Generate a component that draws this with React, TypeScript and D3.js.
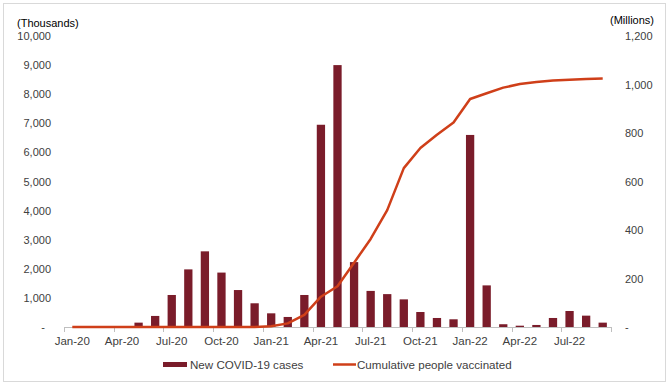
import * as React from 'react';
import * as d3 from 'd3';

// month categories, Jan-20 .. Sep-22
const months = [
  'Jan-20', 'Feb-20', 'Mar-20', 'Apr-20', 'May-20', 'Jun-20', 'Jul-20', 'Aug-20', 'Sep-20', 'Oct-20', 'Nov-20', 'Dec-20',
  'Jan-21', 'Feb-21', 'Mar-21', 'Apr-21', 'May-21', 'Jun-21', 'Jul-21', 'Aug-21', 'Sep-21', 'Oct-21', 'Nov-21', 'Dec-21',
  'Jan-22', 'Feb-22', 'Mar-22', 'Apr-22', 'May-22', 'Jun-22', 'Jul-22', 'Aug-22', 'Sep-22',
];

// new cases, thousands
const newCases = [
  0, 0, 1, 33, 150, 380, 1100, 1980, 2600, 1870, 1270, 815,
  470, 345, 1100, 6950, 9000, 2230, 1240, 1130, 950, 515, 310, 265,
  6600, 1430, 95, 45, 70, 310, 550, 390, 150,
];

// cumulative people vaccinated, millions
const vaccinated = [
  0, 0, 0, 0, 0, 0, 0, 0, 0, 0, 0, 0,
  3, 15, 50, 125, 168, 265, 363, 482, 655, 738, 793, 843,
  940, 964, 987, 1002, 1010, 1016, 1020, 1023, 1025,
];

const leftTicks = [0, 1000, 2000, 3000, 4000, 5000, 6000, 7000, 8000, 9000, 10000];
const rightTicks = [0, 200, 400, 600, 800, 1000, 1200];

const W = 670;
const H = 387;
const BAR = '#7a1c2a';
const LINE = '#cf3f19';
const TEXT = '#404040';
const FONT = 'Liberation Sans, Arial, sans-serif';

export default function App() {
  const ref = React.useRef<SVGSVGElement>(null);

  React.useEffect(() => {
    const svg = d3.select(ref.current);
    svg.selectAll('*').remove();

    const x0 = 64;
    const x1 = 611;
    const y0 = 327;
    const yTop = 36;

    const x = d3.scaleBand<string>().domain(months).range([x0, x1]).padding(0);
    const yL = d3.scaleLinear().domain([0, 10000]).range([y0, yTop]);
    const yR = d3.scaleLinear().domain([0, 1200]).range([y0, yTop]);
    const bw = x.bandwidth();
    const fmt = d3.format(',');

    // frame
    svg.append('rect')
      .attr('x', 3.5).attr('y', 3.5)
      .attr('width', 662).attr('height', 378)
      .attr('fill', '#fff').attr('stroke', '#d9d9d9');

    // bars
    svg.append('g')
      .selectAll('rect')
      .data(months)
      .enter()
      .append('rect')
      .attr('x', (m) => (x(m) ?? 0) + bw * 0.25)
      .attr('width', bw * 0.5)
      .attr('y', (_m, i) => yL(newCases[i]))
      .attr('height', (_m, i) => y0 - yL(newCases[i]))
      .attr('fill', BAR);

    // x axis
    svg.append('line')
      .attr('x1', x0).attr('x2', x1)
      .attr('y1', y0 + 0.5).attr('y2', y0 + 0.5)
      .attr('stroke', '#bfbfbf');

    const tickIdx = months.map((_m, i) => i).filter((i) => i % 3 === 0);
    const tickPos = tickIdx.map((i) => x(months[i]) ?? 0).concat([x1]);
    svg.append('g')
      .selectAll('line')
      .data(tickPos)
      .enter()
      .append('line')
      .attr('x1', (d) => Math.round(d) + 0.5)
      .attr('x2', (d) => Math.round(d) + 0.5)
      .attr('y1', y0)
      .attr('y2', y0 + 5)
      .attr('stroke', '#bfbfbf');

    svg.append('g')
      .selectAll('text')
      .data(tickIdx)
      .enter()
      .append('text')
      .attr('x', (i) => (x(months[i]) ?? 0) + bw / 2)
      .attr('y', 345)
      .attr('text-anchor', 'middle')
      .attr('font-size', 11.5)
      .attr('font-family', FONT)
      .attr('fill', TEXT)
      .text((i) => months[i]);

    // left axis labels
    svg.append('g')
      .selectAll('text')
      .data(leftTicks)
      .enter()
      .append('text')
      .attr('x', (d) => (d === 0 ? 45 : 51))
      .attr('y', (d) => yL(d) + 4)
      .attr('text-anchor', 'end')
      .attr('font-size', 11)
      .attr('font-family', FONT)
      .attr('fill', TEXT)
      .text((d) => (d === 0 ? '-' : fmt(d)));

    // right axis labels
    svg.append('g')
      .selectAll('text')
      .data(rightTicks)
      .enter()
      .append('text')
      .attr('x', 625)
      .attr('y', (d) => yR(d) + 4)
      .attr('text-anchor', 'start')
      .attr('font-size', 11)
      .attr('font-family', FONT)
      .attr('fill', TEXT)
      .text((d) => (d === 0 ? '-' : fmt(d)));

    svg.append('text')
      .attr('x', 17).attr('y', 27)
      .attr('font-size', 11).attr('font-family', FONT).attr('fill', '#000')
      .text('(Thousands)');
    svg.append('text')
      .attr('x', 610).attr('y', 24)
      .attr('font-size', 11).attr('font-family', FONT).attr('fill', '#000')
      .text('(Millions)');

    // vaccination line
    const line = d3.line<number>()
      .x((_d, i) => (x(months[i]) ?? 0) + bw / 2)
      .y((d) => yR(d));
    svg.append('path')
      .attr('d', line(vaccinated))
      .attr('fill', 'none')
      .attr('stroke', LINE)
      .attr('stroke-width', 2.5)
      .attr('stroke-linejoin', 'round');

    // legend
    svg.append('rect')
      .attr('x', 163).attr('y', 362).attr('width', 24).attr('height', 5)
      .attr('fill', BAR);
    svg.append('text')
      .attr('x', 190).attr('y', 369)
      .attr('font-size', 11.6).attr('font-family', FONT).attr('fill', TEXT)
      .text('New COVID-19 cases');
    svg.append('line')
      .attr('x1', 333).attr('x2', 356).attr('y1', 364.5).attr('y2', 364.5)
      .attr('stroke', LINE).attr('stroke-width', 2.5);
    svg.append('text')
      .attr('x', 357).attr('y', 369)
      .attr('font-size', 11.6).attr('font-family', FONT).attr('fill', TEXT)
      .text('Cumulative people vaccinated');
  }, []);

  return (
    <svg
      ref={ref}
      width={W}
      height={H}
      style={{ position: 'absolute', left: 0, top: 0, background: '#fff' }}
    />
  );
}
